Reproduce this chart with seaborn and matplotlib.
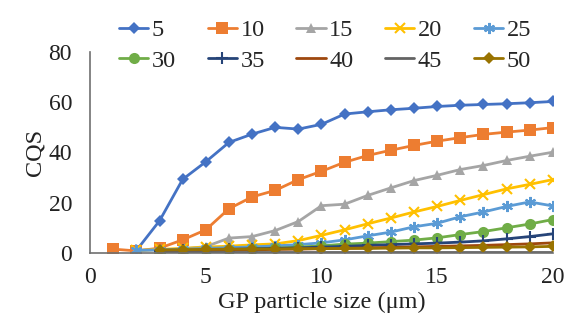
import numpy as np
import pandas as pd
import matplotlib
matplotlib.use('Agg')
import matplotlib.pyplot as plt
import seaborn as sns

nan = np.nan
sizes = list(range(1, 21))

# CQS values per series
s5 = [nan, 1.0, 12.8, 29.3, 36.3, 44.0, 47.3, 50.0, 49.3, 51.2, 55.3, 56.2, 57.0, 57.6, 58.3, 58.8, 59.1, 59.4, 59.8, 60.3]
s10 = [1.5, 0.8, 1.9, 5.2, 9.2, 17.6, 22.3, 24.9, 29.2, 32.5, 36.1, 38.8, 40.9, 42.8, 44.5, 45.9, 47.2, 48.1, 48.9, 49.9]
s15 = [nan, 1.0, 1.2, 1.6, 2.5, 5.9, 6.5, 8.9, 12.5, 18.8, 19.4, 22.9, 25.9, 28.8, 30.9, 33.2, 34.8, 36.8, 38.5, 40.1]
s20 = [nan, 1.0, 1.4, 1.8, 2.3, 2.7, 3.2, 3.6, 4.9, 7.0, 9.2, 11.6, 13.9, 16.3, 18.5, 20.9, 23.2, 25.5, 27.3, 29.2]
s25 = [nan, 1.0, 1.2, 1.5, 1.8, 2.1, 2.4, 2.8, 3.3, 4.0, 5.2, 6.8, 8.3, 10.4, 11.8, 14.4, 16.3, 18.5, 20.3, 18.7]
s30 = [nan, nan, 0.5, 0.7, 1.0, 1.3, 1.6, 1.9, 2.3, 2.8, 3.5, 3.9, 4.5, 5.1, 6.0, 7.3, 8.5, 10.0, 11.5, 13.3]
s35 = [nan, nan, 0.8, 1.0, 1.2, 1.4, 1.6, 1.8, 2.0, 2.3, 2.6, 3.0, 3.3, 3.6, 3.9, 4.3, 4.8, 5.6, 6.5, 7.6]
s40 = [nan, nan, 0.8, 0.9, 1.0, 1.1, 1.2, 1.4, 1.5, 1.7, 1.8, 2.0, 2.2, 2.4, 2.6, 2.8, 3.0, 3.3, 3.6, 4.0]
s45 = [nan, nan, 0.3, 0.3, 0.3, 0.3, 0.3, 0.3, 0.3, 0.3, 0.3, 0.3, 0.3, 0.3, 0.3, 0.3, 0.3, 0.3, 0.3, 0.3]
s50 = [nan, nan, 1.2, 1.3, 1.4, 1.5, 1.5, 1.6, 1.7, 1.7, 1.8, 1.8, 1.9, 2.0, 2.0, 2.1, 2.2, 2.3, 2.4, 2.6]

labels = ['5', '10', '15', '20', '25', '30', '35', '40', '45', '50']
values = [s5, s10, s15, s20, s25, s30, s35, s40, s45, s50]
colors = ['#4472C4', '#ED7D31', '#A5A5A5', '#FFC000', '#5B9BD5',
          '#70AD47', '#264478', '#9E480E', '#636363', '#997300']
markers = ['D', 's', '^', 'x', (6, 2, 0), 'o', '+', None, None, 'D']
msizes = [6, 8, 7, 7, 8, 8, 8, 0, 0, 6]

rows = []
for lab, vals in zip(labels, values):
    for x, y in zip(sizes, vals):
        rows.append({'size': x, 'CQS': y, 'series': lab})
df = pd.DataFrame(rows).dropna()

sns.set_style('white')
plt.rcParams['font.family'] = ['Liberation Serif', 'DejaVu Serif']

fig = plt.figure(figsize=(5.67, 3.23), dpi=100)
ax = fig.add_axes([0.159, 0.217, 0.816, 0.622])

for lab, col, mk, ms in zip(labels, colors, markers, msizes):
    kw = dict(marker=mk, markersize=ms, markeredgecolor=col, markerfacecolor=col)
    if mk in ('x', '+') or isinstance(mk, tuple):
        kw['markeredgewidth'] = 1.5
    else:
        kw['markeredgewidth'] = 0
    sns.lineplot(data=df[df['series'] == lab], x='size', y='CQS', color=col,
                 linewidth=2, label=lab, ax=ax, **kw)

ax.set_xlim(0, 20)
ax.set_ylim(0, 80)
ax.set_xticks([0, 5, 10, 15, 20])
ax.set_yticks([0, 20, 40, 60, 80])
ax.tick_params(length=0, labelsize=17, colors='#222222')
ax.tick_params(axis='x', pad=10)
ax.tick_params(axis='y', pad=13)
for side in ['top', 'right']:
    ax.spines[side].set_visible(False)
for side in ['left', 'bottom']:
    ax.spines[side].set_color('#6f6f6f')
    ax.spines[side].set_linewidth(1.2)

ax.set_xlabel('GP particle size (μm)', fontsize=17.5, color='#222222', labelpad=3)
ax.set_ylabel('CQS', fontsize=17.5, color='#222222', labelpad=2)

# legend filled row by row (matplotlib fills columns first)
handles, labs = ax.get_legend_handles_labels()
order = [0, 5, 1, 6, 2, 7, 3, 8, 4, 9]
ax.legend([handles[i] for i in order], [labs[i] for i in order],
          ncol=5, frameon=False, fontsize=17.5, loc='upper left',
          bbox_to_anchor=(0.21, 0.94), bbox_transform=fig.transFigure,
          handlelength=1.2, handletextpad=0.15, columnspacing=1.3,
          labelspacing=0.35, borderaxespad=0, borderpad=0)

plt.savefig('out.png', dpi=100)
